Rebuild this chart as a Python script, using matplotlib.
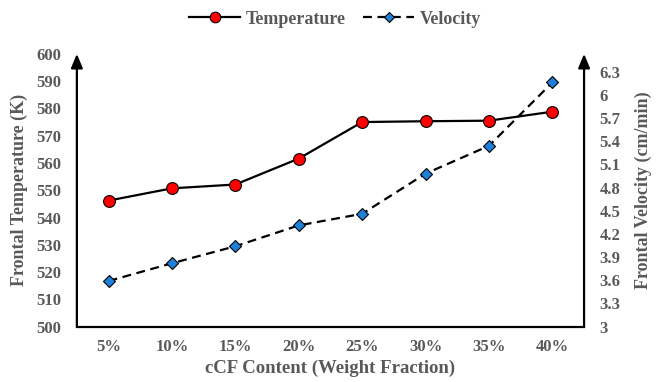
import matplotlib.pyplot as plt

plt.rcParams['font.family'] = ['Liberation Serif', 'DejaVu Serif']
plt.rcParams['font.weight'] = 'bold'

content = ['5%', '10%', '15%', '20%', '25%', '30%', '35%', '40%']
temperature = [546.2, 550.7, 552.1, 561.6, 575.0, 575.3, 575.5, 578.8]
velocity = [3.59, 3.82, 4.04, 4.31, 4.46, 4.98, 5.34, 6.16]

temp_ticks = list(range(500, 601, 10))
vel_ticks = [3, 3.3, 3.6, 3.9, 4.2, 4.5, 4.8, 5.1, 5.4, 5.7, 6, 6.3]
vel_labels = ['3', '3.3', '3.6', '3.9', '4.2', '4.5', '4.8', '5.1', '5.4', '5.7', '6', '6.3']

gray = '#595959'

fig = plt.figure(figsize=(6.57, 3.82), dpi=100)
ax = fig.add_axes([0.117, 0.145, 0.772, 0.714])
ax2 = ax.twinx()

x = range(len(content))
l1, = ax.plot(x, temperature, color='black', lw=1.6, marker='o', ms=8.5,
              mfc='#ff0000', mec='black', mew=0.8, label='Temperature', zorder=3)
l2, = ax2.plot(x, velocity, color='black', lw=1.6, ls=(0, (4, 2.5)), marker='D', ms=6,
               mfc='#1f80d9', mec='black', mew=0.8, label='Velocity', zorder=3)

ax.set_xlim(-0.5, 7.5)
ax.set_ylim(500, 600)
ax2.set_ylim(3, 6.53)
ax.set_xticks(list(x))
ax.set_xticklabels(content)
ax.set_yticks(temp_ticks)
ax2.set_yticks(vel_ticks)
ax2.set_yticklabels(vel_labels)

for a in (ax, ax2):
    for s in ('top', 'left', 'right'):
        a.spines[s].set_visible(False)
    a.tick_params(length=0, colors=gray, labelsize=12)
    for lab in a.get_xticklabels() + a.get_yticklabels():
        lab.set_fontweight('bold')
ax2.spines['bottom'].set_visible(False)
ax.spines['bottom'].set_linewidth(1.6)
ax.tick_params(axis='x', pad=9)
ax.tick_params(axis='y', pad=11)
ax2.tick_params(axis='y', pad=11)

# arrowed vertical axes
for xa in (0, 1):
    ax.annotate('', xy=(xa, 1.0), xytext=(xa, 0), xycoords='axes fraction',
                arrowprops=dict(arrowstyle='-|>,head_length=0.6,head_width=0.25',
                                color='black', lw=1.6,
                                mutation_scale=14, shrinkA=0, shrinkB=0),
                annotation_clip=False)

ax.set_xlabel('cCF Content (Weight Fraction)', color=gray, fontsize=13.5,
              fontweight='bold', labelpad=3)
ax.set_ylabel('Frontal Temperature (K)', color=gray, fontsize=13,
              fontweight='bold', labelpad=6)
ax2.set_ylabel('Frontal Velocity (cm/min)', color=gray, fontsize=13,
               fontweight='bold', labelpad=10)

leg = fig.legend(handles=[l1, l2], loc='upper center', bbox_to_anchor=(0.51, 1.015),
                 ncol=2, frameon=False, fontsize=13, handlelength=2.8,
                 columnspacing=1.0, handletextpad=0.3, markerscale=0.9)
for t in leg.get_texts():
    t.set_color(gray)
    t.set_fontweight('bold')

fig.savefig('out.png', dpi=100)
